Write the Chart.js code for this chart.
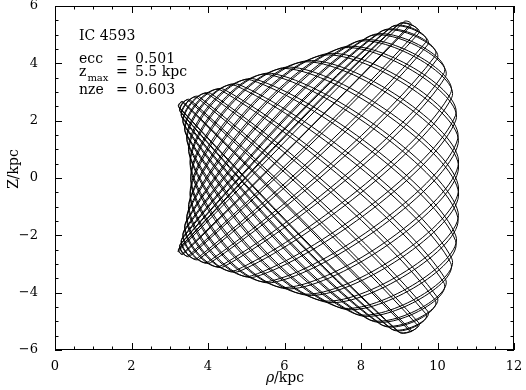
<!DOCTYPE html>
<html>
<head>
<meta charset="utf-8">
<script src="https://cdn.jsdelivr.net/npm/chart.js@4.4.1/dist/chart.umd.min.js"></script>
<style>
  html, body { margin: 0; padding: 0; background: #fff; }
  #wrap { width: 526px; height: 390px; }
</style>
</head>
<body>
<div id="wrap"><canvas id="orbitChart" width="526" height="390"></canvas></div>
<script>
// orbit turning points in the meridional plane (rho, z), in time order
const orbitRho = [
  9.32, 3.35,
  3.24, 8.97, 9.51, 3.53, 3.28, 8.76, 9.74, 3.77, 3.33, 8.49, 9.98, 4.07, 3.38, 8.16,
  10.20, 4.42, 3.43, 7.79, 10.37, 4.81, 3.48, 7.39, 10.48, 5.23, 3.52, 6.95, 10.54, 5.67, 3.54, 6.50, 10.55, 6.13, 3.55, 6.04,
  10.55, 6.59, 3.54, 5.58, 10.53, 7.04, 3.51, 5.14, 10.47, 7.47, 3.47, 4.73, 10.34, 7.87, 3.42, 4.34, 10.16, 8.23, 3.37, 4.01,
  9.93, 8.54, 3.32, 3.72, 9.69, 8.80, 3.27, 3.49, 9.46, 9.00, 3.23, 3.33, 9.30,
  9.32, 3.35,
  3.24, 8.97, 9.51, 3.53, 3.28, 8.76, 9.74, 3.77, 3.33, 8.49, 9.98, 4.07, 3.38, 8.16,
  10.20, 4.42, 3.43, 7.79, 10.37, 4.81, 3.48, 7.39, 10.48, 5.23, 3.52, 6.95, 10.54, 5.67, 3.54, 6.50, 10.55, 6.13, 3.55, 6.04,
  10.55, 6.59, 3.54, 5.58, 10.53, 7.04, 3.51, 5.14, 10.47, 7.47, 3.47, 4.73, 10.34, 7.87, 3.42, 4.34, 10.16, 8.23, 3.37, 4.01,
  9.93, 8.54, 3.32, 3.72, 9.69, 8.80, 3.27, 3.49, 9.46, 9.00, 3.23, 3.33, 9.30, 9.13, 3.21];
const orbitZ = [
  5.33, -2.66,
  -2.46, 5.36, 5.05, -2.73, -2.30, 5.24, 4.64, -2.83, -2.08, 5.09, 4.13, -2.95, -1.81, 4.91,
  3.51, -3.09, -1.50, 4.71, 2.80, -3.26, -1.14, 4.50, 2.02, -3.45, -0.76, 4.27, 1.20, -3.65, -0.37, 4.05, 0.35, -3.87, 0.04, 3.82,
  -0.52, -4.09, 0.45, 3.61, -1.37, -4.32, 0.84, 3.41, -2.18, -4.54, 1.22, 3.22, -2.95, -4.75, 1.56, 3.06, -3.64, -4.95, 1.87, 2.92,
  -4.24, -5.12, 2.13, 2.80, -4.73, -5.27, 2.33, 2.71, -5.11, -5.38, 2.49, 2.65, -5.37,
  -5.33, 2.66,
  2.46, -5.36, -5.05, 2.73, 2.30, -5.24, -4.64, 2.83, 2.08, -5.09, -4.13, 2.95, 1.81, -4.91,
  -3.51, 3.09, 1.50, -4.71, -2.80, 3.26, 1.14, -4.50, -2.02, 3.45, 0.76, -4.27, -1.20, 3.65, 0.37, -4.05, -0.35, 3.87, -0.04, -3.82,
  0.52, 4.09, -0.45, -3.61, 1.37, 4.32, -0.84, -3.41, 2.18, 4.54, -1.22, -3.22, 2.95, 4.75, -1.56, -3.06, 3.64, 4.95, -1.87, -2.92,
  4.24, 5.12, -2.13, -2.80, 4.73, 5.27, -2.33, -2.71, 5.11, 5.38, -2.49, -2.65, 5.37, 5.46, -2.57];

const xTicks = [0, 2, 4, 6, 8, 10, 12];
const yTicks = [-6, -4, -2, 0, 2, 4, 6];
const minorStep = 0.5;

const objName = 'IC 4593';
const infoNames = ['ecc', 'z', 'nze'];
const infoValues = ['0.501', '5.5 kpc', '0.603'];

const serif = '"DejaVu Serif", "Liberation Serif", serif';

const points = orbitRho.map((r, i) => ({x: r, y: orbitZ[i]}));

// frame with inward ticks on all sides, axis titles and the text block
const frameTicks = {
  id: 'frameTicks',
  afterDraw(chart) {
    const {ctx, chartArea: a, scales: {x, y}} = chart;
    ctx.save();
    ctx.strokeStyle = '#000';
    ctx.lineWidth = 1;
    ctx.strokeRect(a.left + 0.5, a.top + 0.5, a.right - a.left - 1, a.bottom - a.top - 1);
    ctx.beginPath();
    for (let v = x.min; v <= x.max + 1e-9; v += minorStep) {
      const px = Math.round(x.getPixelForValue(v)) + 0.5;
      const len = xTicks.includes(v) ? 7 : 3.5;
      ctx.moveTo(px, a.bottom); ctx.lineTo(px, a.bottom - len);
      ctx.moveTo(px, a.top); ctx.lineTo(px, a.top + len);
    }
    for (let v = y.min; v <= y.max + 1e-9; v += minorStep) {
      const py = Math.round(y.getPixelForValue(v)) + 0.5;
      const len = yTicks.includes(v) ? 7 : 3.5;
      ctx.moveTo(a.left, py); ctx.lineTo(a.left + len, py);
      ctx.moveTo(a.right, py); ctx.lineTo(a.right - len, py);
    }
    ctx.stroke();

    ctx.fillStyle = '#000';
    ctx.textBaseline = 'alphabetic';
    ctx.textAlign = 'left';
    ctx.font = '14px ' + serif;
    const tx = 79, eqx = 116, vx = 135;
    const rows = [62.5, 75.5, 94];
    ctx.fillText(objName, tx, 40);
    infoNames.forEach((n, i) => {
      ctx.font = '14px ' + serif;
      ctx.fillText(n, tx, rows[i]);
      if (n === 'z') {
        const zw = ctx.measureText('z').width;
        ctx.font = '10px ' + serif;
        ctx.fillText('max', tx + zw + 1, rows[i] + 5);
        ctx.font = '14px ' + serif;
      }
      ctx.fillText('=', eqx, rows[i]);
      ctx.fillText(infoValues[i], vx, rows[i]);
    });

    // x title: italic rho + /kpc
    ctx.font = 'italic 14px ' + serif;
    const rw = ctx.measureText('ρ').width;
    ctx.font = '14px ' + serif;
    const kw = ctx.measureText('/kpc').width;
    const x0 = 285 - (rw + kw) / 2;
    ctx.font = 'italic 14px ' + serif;
    ctx.fillText('ρ', x0, 382);
    ctx.font = '14px ' + serif;
    ctx.fillText('/kpc', x0 + rw, 382);

    // y title, rotated
    ctx.translate(18, 169);
    ctx.rotate(-Math.PI / 2);
    ctx.textAlign = 'center';
    ctx.fillText('Z/kpc', 0, 0);
    ctx.restore();
  }
};

const chart = new Chart('orbitChart', {
  type: 'scatter',
  data: {
    datasets: [{
      data: points,
      showLine: true,
      borderColor: '#000',
      borderWidth: 1,
      tension: 0.32,
      pointRadius: 0,
      fill: false
    }]
  },
  options: {
    responsive: false,
    animation: false,
    layout: { padding: { top: 6, right: 12, left: 0, bottom: 0 } },
    plugins: { legend: { display: false }, tooltip: { enabled: false } },
    scales: {
      x: {
        type: 'linear',
        min: 0, max: 12,
        grid: { display: false },
        border: { display: false },
        afterBuildTicks: s => { s.ticks = xTicks.map(v => ({value: v})); },
        afterFit: s => { s.height = 40; s.paddingLeft = 0; s.paddingRight = 0; },
        ticks: { color: '#000', padding: 1, font: { family: serif, size: 13 }, maxRotation: 0 }
      },
      y: {
        type: 'linear',
        min: -6, max: 6,
        grid: { display: false },
        border: { display: false },
        afterBuildTicks: s => { s.ticks = yTicks.map(v => ({value: v})); },
        afterFit: s => { s.width = 55; s.paddingTop = 0; s.paddingBottom = 0; },
        ticks: { color: '#000', padding: 9, font: { family: serif, size: 13 },
          callback: v => String(v).replace('-', '\u2212') }
      }
    }
  },
  plugins: [frameTicks]
});
</script>
</body>
</html>
